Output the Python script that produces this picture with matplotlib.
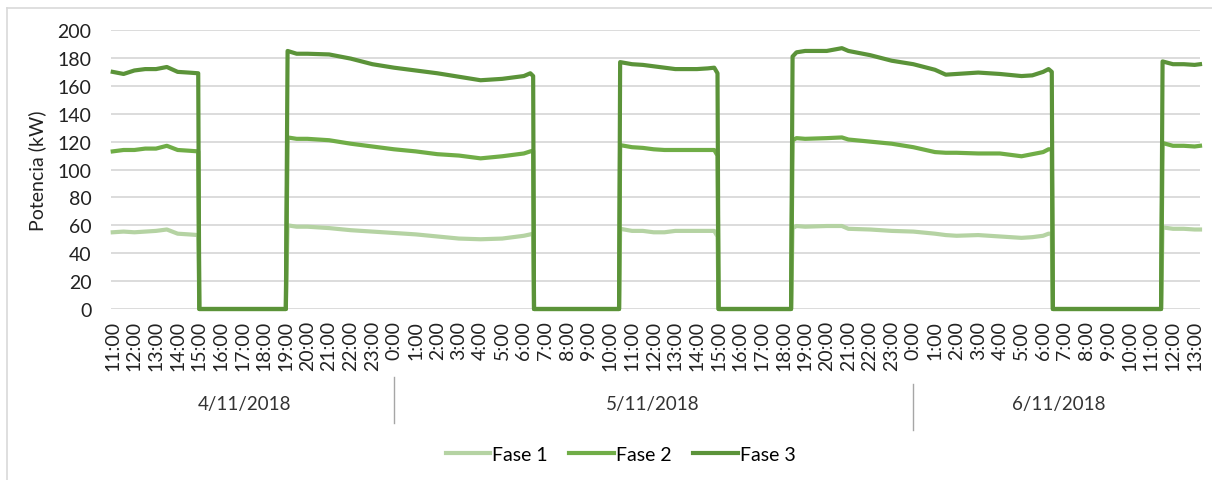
import matplotlib.pyplot as plt
from matplotlib.lines import Line2D

plt.rcParams['font.family'] = ['Lato', 'DejaVu Sans']

# hours counted from 4/11/2018 0:00
t = [11.0, 11.5, 12.0, 12.5, 13.0, 13.5, 14.0, 14.5, 14.95,
     15.0, 19.0,
     19.08, 19.5, 20.0, 21.0, 22.0, 23.0, 24.0, 25.0, 26.0, 27.0, 28.0, 29.0, 30.0, 30.3, 30.43,
     30.47, 34.4,
     34.45, 35.0, 35.5, 36.0, 36.5, 37.0, 37.5, 38.0, 38.5, 38.8, 38.95,
     39.0, 42.35,
     42.42, 42.6, 43.0, 44.0, 44.7, 45.0, 46.0, 47.0, 48.0, 49.0, 49.5, 50.0, 51.0, 52.0, 53.0, 53.5, 54.0, 54.25, 54.4,
     54.45, 59.45,
     59.52, 60.0, 60.5, 61.0, 61.25]

fase1 = [55, 55.5, 55, 55.5, 56, 57, 54, 53.5, 53,
         0, 0,
         60, 59, 59, 58, 56.5, 55.5, 54.5, 53.5, 52, 50.5, 50, 50.5, 52.5, 53.5, 54,
         0, 0,
         57.5, 56, 56, 55, 55, 56, 56, 56, 56, 56, 52,
         0, 0,
         58, 59.5, 59, 59.5, 59.5, 57.5, 57, 56, 55.5, 54, 53, 52.5, 53, 52, 51, 51.5, 52.5, 54, 54,
         0, 0,
         58.5, 57.5, 57.5, 57, 57]

fase2 = [113, 114, 114, 115, 115, 117, 114, 113.5, 113,
         0, 0,
         123, 122, 122, 121, 118.5, 116.5, 114.5, 113, 111, 110, 108, 109.5, 111.5, 113, 113.5,
         0, 0,
         117.5, 116, 115.5, 114.5, 114, 114, 114, 114, 114, 114, 110,
         0, 0,
         121, 122.5, 122, 122.5, 123, 121.5, 120, 118.5, 116, 112.5, 112, 112, 111.5, 111.5, 109.5, 111, 112.5, 114.5, 114.5,
         0, 0,
         119, 117, 117, 116.5, 117]

fase3 = [170, 168.5, 171, 172, 172, 173.5, 170, 169.5, 169,
         0, 0,
         185, 183, 183, 182.5, 179.5, 175.5, 173, 171, 169, 166.5, 164, 165, 167, 169, 167,
         0, 0,
         177, 175.5, 175, 174, 173, 172, 172, 172, 172.5, 173, 169,
         0, 0,
         181, 184, 185, 185, 187, 185, 182, 178, 175.5, 171.5, 168, 168.5, 169.5, 168.5, 167, 167.5, 170, 172, 170,
         0, 0,
         177.5, 175.5, 175.5, 175, 175.5]

hour_ticks = list(range(11, 62))
hour_labels = [f"{h % 24}:00" for h in hour_ticks]

days = ['4/11/2018', '5/11/2018', '6/11/2018']
day_centers = [17.1, 35.97, 54.7]
day_breaks = [24, 48]

fig = plt.figure(figsize=(12.12, 4.81), dpi=100)
ax = fig.add_axes([0.0916, 0.3555, 0.8985, 0.58])

ax.plot(t, fase1, color='#b5d3a3', lw=3, label='Fase 1', clip_on=False)
ax.plot(t, fase2, color='#70ad47', lw=3, label='Fase 2', clip_on=False)
ax.plot(t, fase3, color='#5b9339', lw=3, label='Fase 3', clip_on=False)

ax.set_xlim(10.92, 61.25)
ax.set_ylim(0, 200)
ax.set_yticks(range(0, 201, 20))
ax.set_xticks(hour_ticks)
ax.set_xticklabels(hour_labels, rotation=90)
ax.grid(axis='y', color='#d9d9d9', lw=1.3)
ax.set_axisbelow(True)
for s in ax.spines.values():
    s.set_visible(False)
ax.tick_params(axis='y', length=0, pad=14, labelsize=14, labelcolor='#222222')
ax.tick_params(axis='x', length=0, pad=8, labelsize=14, labelcolor='#222222')

ax.set_ylabel('Potencia (kW)', fontsize=14, color='#222222')
ax.yaxis.set_label_coords(-0.06, 0.5)

tr = ax.get_xaxis_transform()
for name, xc in zip(days, day_centers):
    ax.text(xc, -0.34, name, transform=tr, ha='center', va='center', fontsize=13.5, color='#333333')
ax.plot([day_breaks[0]] * 2, [-0.244, -0.409], transform=tr, color='#a6a6a6', lw=1, clip_on=False)
ax.plot([day_breaks[1]] * 2, [-0.269, -0.434], transform=tr, color='#a6a6a6', lw=1, clip_on=False)

fig.legend(loc='center', bbox_to_anchor=(0.512, 0.054), ncol=3, frameon=False,
           fontsize=14, handlelength=2.3, handletextpad=0.1, columnspacing=1.1)

# outer chart border
fig.add_artist(Line2D([7 / 1212, 7 / 1212], [0, 1 - 9 / 481], color='#d9d9d9', lw=1.2))
fig.add_artist(Line2D([7 / 1212, 1], [1 - 9 / 481, 1 - 9 / 481], color='#d9d9d9', lw=1.2))

fig.savefig('out.png', dpi=100)
